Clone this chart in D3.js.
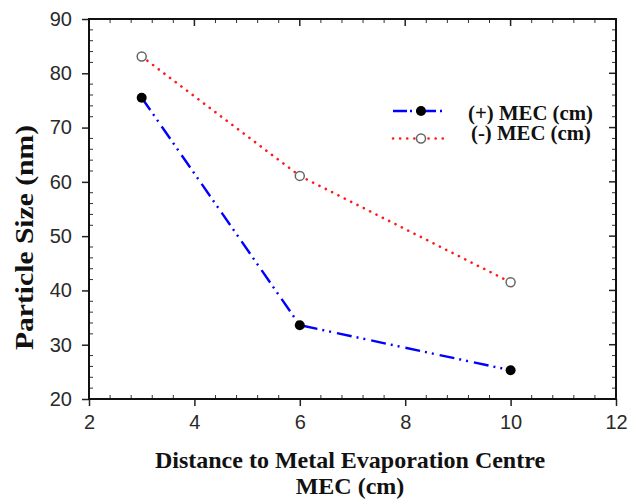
<!DOCTYPE html>
<html>
<head>
<meta charset="utf-8">
<script src="https://cdn.jsdelivr.net/npm/d3@7"></script>
<style>
  body { margin: 0; background: #fff; }
  svg { display: block; }
</style>
</head>
<body>
<div id="chart"></div>
<script>
// data
var distance = [3, 6, 10];
var plusMEC = [75.5, 33.6, 25.3];
var minusMEC = [83.1, 61.1, 41.5];
var seriesNames = ["(+) MEC (cm)", "(-) MEC (cm)"];
var xTicks = [2, 4, 6, 8, 10, 12];
var yTicks = [20, 30, 40, 50, 60, 70, 80, 90];

var margin = { top: 19, right: 13, bottom: 100, left: 89 },
    width = 629 - margin.left - margin.right,
    height = 499 - margin.top - margin.bottom;

var serif = "'Liberation Serif', 'Times New Roman', serif";
var blueDash = "15,5,2,5,2,6";
var redDots = "0.1,7";

var svg = d3.select("#chart")
    .append("svg")
    .attr("width", 629)
    .attr("height", 499);

var g = svg.append("g")
    .attr("transform", "translate(" + margin.left + "," + margin.top + ")");

var x = d3.scaleLinear().domain([2, 12]).range([0, width]);
var y = d3.scaleLinear().domain([20, 90]).range([height, 0]);

var xMinor = d3.range(2, 12.01, 0.4).filter(function (d) { return Math.abs(d / 2 - Math.round(d / 2)) > 0.01; });
var yMinor = d3.range(20, 90.01, 2).filter(function (d) { return d % 10 !== 0; });

// minor ticks, all pointing inward
g.selectAll(".xminb").data(xMinor).enter().append("line")
    .attr("x1", x).attr("x2", x).attr("y1", height).attr("y2", height - 4)
    .attr("stroke", "#333").attr("stroke-width", 1);
g.selectAll(".xmint").data(xMinor).enter().append("line")
    .attr("x1", x).attr("x2", x).attr("y1", 0).attr("y2", 4)
    .attr("stroke", "#333").attr("stroke-width", 1);
g.selectAll(".ymint").data(yMinor).enter().append("line")
    .attr("x1", 0).attr("x2", 4).attr("y1", y).attr("y2", y)
    .attr("stroke", "#333").attr("stroke-width", 1);
g.selectAll(".yminr").data(yMinor).enter().append("line")
    .attr("x1", width).attr("x2", width - 4).attr("y1", y).attr("y2", y)
    .attr("stroke", "#333").attr("stroke-width", 1);

// major ticks on top and right, inward
g.selectAll(".xmajt").data(xTicks).enter().append("line")
    .attr("x1", x).attr("x2", x).attr("y1", 0).attr("y2", 7)
    .attr("stroke", "#222").attr("stroke-width", 1.5);
g.selectAll(".ymajr").data(yTicks).enter().append("line")
    .attr("x1", width).attr("x2", width - 7).attr("y1", y).attr("y2", y)
    .attr("stroke", "#222").attr("stroke-width", 1.5);

// bottom and left axes
var xAxis = g.append("g")
    .attr("transform", "translate(0," + height + ")")
    .call(d3.axisBottom(x).tickValues(xTicks).tickSize(7).tickPadding(9).tickSizeOuter(0));
var yAxis = g.append("g")
    .call(d3.axisLeft(y).tickValues(yTicks).tickSize(7).tickPadding(10).tickSizeOuter(0));

[xAxis, yAxis].forEach(function (a) {
    a.select(".domain").remove();
    a.selectAll("line").attr("stroke", "#222").attr("stroke-width", 1.5);
    a.selectAll("text")
        .style("font-family", "'Liberation Sans', Arial, sans-serif")
        .style("font-size", "20px")
        .attr("fill", "#2a2a2a");
});

// frame
g.append("rect")
    .attr("x", 0).attr("y", 0)
    .attr("width", width).attr("height", height)
    .attr("fill", "none")
    .attr("stroke", "#111")
    .attr("stroke-width", 2);

var line = d3.line()
    .x(function (d) { return x(d[0]); })
    .y(function (d) { return y(d[1]); });

var plusData = distance.map(function (d, i) { return [d, plusMEC[i]]; });
var minusData = distance.map(function (d, i) { return [d, minusMEC[i]]; });

g.append("path")
    .datum(minusData)
    .attr("d", line)
    .attr("fill", "none")
    .attr("stroke", "#ff1a1a")
    .attr("stroke-width", 2.6)
    .attr("stroke-linecap", "round")
    .attr("stroke-dasharray", redDots);

g.append("path")
    .datum(plusData)
    .attr("d", line)
    .attr("fill", "none")
    .attr("stroke", "#0000ff")
    .attr("stroke-width", 2.4)
    .attr("stroke-dasharray", blueDash);

g.selectAll(".open").data(minusData).enter().append("circle")
    .attr("cx", function (d) { return x(d[0]); })
    .attr("cy", function (d) { return y(d[1]); })
    .attr("r", 4.5)
    .attr("fill", "#fff")
    .attr("stroke", "#666")
    .attr("stroke-width", 1.5);

g.selectAll(".filled").data(plusData).enter().append("circle")
    .attr("cx", function (d) { return x(d[0]); })
    .attr("cy", function (d) { return y(d[1]); })
    .attr("r", 5)
    .attr("fill", "#000");

// legend
var legend = svg.append("g");
var legY = [111, 138.5];
var legTextY = [120, 140];
legend.append("line")
    .attr("x1", 393).attr("x2", 445).attr("y1", legY[0]).attr("y2", legY[0])
    .attr("stroke", "#0000ff").attr("stroke-width", 2.4)
    .attr("stroke-dasharray", "14,3,2,4,20,4,2,100");
legend.append("circle").attr("cx", 421).attr("cy", legY[0]).attr("r", 5).attr("fill", "#000");
legend.append("line")
    .attr("x1", 393).attr("x2", 447).attr("y1", legY[1]).attr("y2", legY[1])
    .attr("stroke", "#ff1a1a").attr("stroke-width", 2.6)
    .attr("stroke-linecap", "round")
    .attr("stroke-dasharray", redDots);
legend.append("circle").attr("cx", 421).attr("cy", legY[1]).attr("r", 4.5)
    .attr("fill", "#fff").attr("stroke", "#666").attr("stroke-width", 1.5);
legend.selectAll("text").data(seriesNames).enter().append("text")
    .attr("x", function (d, i) { return i === 0 ? 468 : 471; })
    .attr("y", function (d, i) { return legTextY[i]; })
    .attr("textLength", function (d, i) { return i === 0 ? 125 : 120; })
    .attr("lengthAdjust", "spacingAndGlyphs")
    .style("font-family", serif)
    .style("font-weight", "bold")
    .style("font-size", "20.5px")
    .attr("fill", "#111")
    .text(function (d) { return d; });

// axis titles
svg.append("text")
    .attr("transform", "translate(33,237.5) rotate(-90)")
    .attr("text-anchor", "middle")
    .attr("textLength", 225)
    .attr("lengthAdjust", "spacingAndGlyphs")
    .style("font-family", serif)
    .style("font-weight", "bold")
    .style("font-size", "26px")
    .attr("fill", "#111")
    .text("Particle Size (nm)");

svg.append("text")
    .attr("x", 350).attr("y", 468)
    .attr("text-anchor", "middle")
    .style("font-family", serif)
    .style("font-weight", "bold")
    .style("font-size", "24px")
    .attr("fill", "#111")
    .text("Distance to Metal Evaporation Centre");

svg.append("text")
    .attr("x", 350).attr("y", 494)
    .attr("text-anchor", "middle")
    .style("font-family", serif)
    .style("font-weight", "bold")
    .style("font-size", "24px")
    .attr("fill", "#111")
    .text("MEC (cm)");
</script>
</body>
</html>
